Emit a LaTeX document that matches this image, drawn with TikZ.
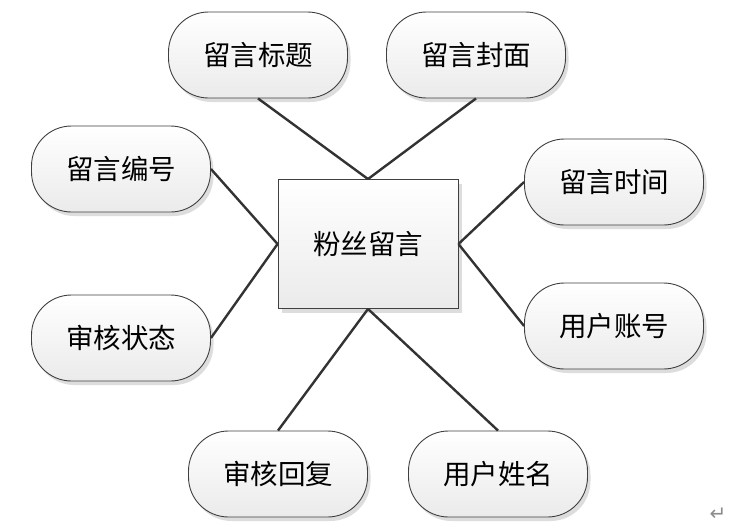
\documentclass[tikz,border=0pt]{standalone}
\usepackage{fontspec}
\newfontfamily\cjk{Noto Sans CJK SC}
\newfontfamily\dvs{DejaVu Sans}
\usetikzlibrary{shadows}
\begin{document}
\begin{tikzpicture}[x=1pt,y=-1pt,
  attr/.style={draw=black!75, line width=0.9pt, rounded corners=40pt,
    minimum width=179pt, minimum height=86pt, inner sep=0pt,
    top color=white, bottom color=black!8,
    drop shadow={shadow xshift=3pt, shadow yshift=-4pt, fill=black!22, opacity=0.6},
    font=\cjk\fontsize{27.5}{32}\selectfont},
  ent/.style={draw=black!75, line width=0.9pt,
    minimum width=180pt, minimum height=129pt, inner sep=0pt,
    top color=white, bottom color=black!8,
    drop shadow={shadow xshift=4pt, shadow yshift=-4pt, fill=black!22, opacity=0.6},
    font=\cjk\fontsize{27.5}{32}\selectfont},
  link/.style={draw=black!80, line width=2.4pt}]
\useasboundingbox (0,0) rectangle (752,530);
\fill[white] (0,0) rectangle (752,530);
\node[ent] (c) at (368,244) {粉丝留言};
\node[attr] (a1) at (258,55) {留言标题};
\node[attr] (a2) at (476,55) {留言封面};
\node[attr] (a3) at (121,169) {留言编号};
\node[attr] (a4) at (614,182) {留言时间};
\node[attr] (a5) at (121,338) {审核状态};
\node[attr] (a6) at (614,326) {用户账号};
\node[attr] (a7) at (278,474) {审核回复};
\node[attr] (a8) at (498,474) {用户姓名};
\draw[link] (a1.south) -- (c.north);
\draw[link] (a2.south) -- (c.north);
\draw[link] (a3.east) -- (c.west);
\draw[link] (a5.east) -- (c.west);
\draw[link] (a4.west) -- (c.east);
\draw[link] (a6.west) -- (c.east);
\draw[link] (a7.north) -- (c.south);
\draw[link] (a8.north) -- (c.south);
\node[text=black!45, font=\dvs\fontsize{20}{22}\selectfont] (ret) at (718,514) {↵};
\end{tikzpicture}
\end{document}
